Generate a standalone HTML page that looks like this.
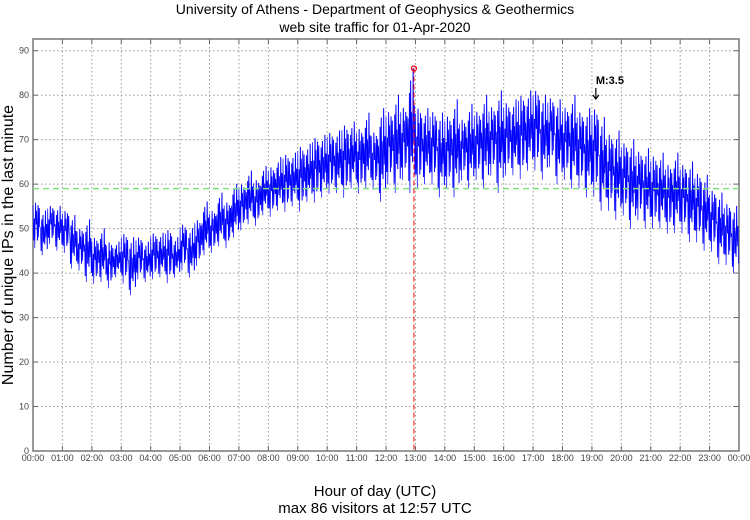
<!DOCTYPE html>
<html><head><meta charset="utf-8"><style>
body{margin:0;background:#fff;font-family:"Liberation Sans",sans-serif}
</style></head><body>
<svg width="750" height="515" xmlns="http://www.w3.org/2000/svg">
<g id="grid"></g>
<g id="series"></g>
<g id="overlay"></g>
</svg>
<script>
const hours = ["00:00","01:00","02:00","03:00","04:00","05:00","06:00","07:00","08:00","09:00","10:00","11:00","12:00","13:00","14:00","15:00","16:00","17:00","18:00","19:00","20:00","21:00","22:00","23:00","00:00"];
const yTicks = [0,10,20,30,40,50,60,70,80,90];
const hiVals = [57,54,56,55, 55,53,51,52, 49,50,48,47, 50,48,49,47, 50,49,51,48, 52,50,53,56, 55,58,57,60, 61,63,62,64, 65,66,68,67, 70,69,72,71, 73,72,75,74, 74,76,73,77, 78,80,79,86, 79,77,78,76, 77,79,76,78, 78,80,79,81, 80,79,82,81, 83,80,81,79, 79,80,78,77, 79,75,73,72, 71,70,69,68, 68,67,66,67, 66,65,64,62, 60,58,57,55];
const loVals = [45,44,46,45, 44,41,40,38, 37,38,36,39, 37,35,38,38, 38,39,37,39, 40,39,41,44, 44,46,45,48, 49,51,50,53, 52,54,53,55, 53,56,55,57, 57,58,56,59, 57,59,58,56, 59,58,60,58, 58,60,59,57, 58,57,60,59, 60,59,61,58, 61,62,60,63, 62,61,63,60, 60,59,58,57, 56,54,53,52, 52,50,51,50, 49,50,48,49, 48,47,46,45, 44,42,41,40];
const meanVal = 59;
const peakVal = 86, peakMin = 777;
const markerMin = 1148;
const X0=33,X1=739,Y0=451,YT=39;
const x = m => X0 + m/1440*(X1-X0);
const y = v => Y0 - v*(451-50.7)/90;
const NS="http://www.w3.org/2000/svg";
function mk(t,a,p){const e=document.createElementNS(NS,t);for(const k in a)e.setAttribute(k,a[k]);p.appendChild(e);return e;}
const svg=document.querySelector('svg'), grid=document.getElementById('grid'), ser=document.getElementById('series'), ov=document.getElementById('overlay');
let t=mk('text',{x:375,y:14,'text-anchor':'middle','font-size':14},svg);t.textContent="University of Athens - Department of Geophysics & Geothermics";

t=mk('text',{x:375,y:32,'text-anchor':'middle','font-size':14},svg);t.textContent="web site traffic for 01-Apr-2020";

t=mk('text',{x:375,y:496,'text-anchor':'middle','font-size':15},svg);t.textContent="Hour of day (UTC)";

t=mk('text',{x:375,y:513,'text-anchor':'middle','font-size':15},svg);t.textContent="max 86 visitors at 12:57 UTC";

t=mk('text',{x:0,y:0,'text-anchor':'middle','font-size':16,transform:'translate(13,245) rotate(-90)'},svg);t.textContent="Number of unique IPs in the last minute";

yTicks.forEach(v=>{
  if(v>0){const l=mk('line',{x1:X0,x2:X1,y1:y(v),y2:y(v),stroke:'#999','stroke-dasharray':'1.5,2.5','stroke-width':1},grid);
  }
  mk('line',{x1:X0,x2:X0+5,y1:y(v),y2:y(v),stroke:'#666'},grid);
  mk('line',{x1:X1,x2:X1-5,y1:y(v),y2:y(v),stroke:'#666'},grid);
  const tt=mk('text',{x:X0-4,y:y(v)+3,'text-anchor':'end','font-size':9,fill:'#444'},grid);tt.textContent=v;
  
});
hours.forEach((h,i)=>{
  const xx=x(i*60);
  if(i>0&&i<24){const l=mk('line',{x1:xx,x2:xx,y1:YT,y2:Y0,stroke:'#999','stroke-dasharray':'1.5,2.5'},grid);
  }
  mk('line',{x1:xx,x2:xx,y1:Y0,y2:Y0-5,stroke:'#666'},grid);
  mk('line',{x1:xx,x2:xx,y1:YT,y2:YT+5,stroke:'#666'},grid);
  const tt=mk('text',{x:xx,y:461,'text-anchor':'middle','font-size':9,fill:'#444'},grid);tt.textContent=h;
  
});
const fr=mk('rect',{x:X0,y:YT,width:X1-X0,height:Y0-YT,fill:'none',stroke:'#777','stroke-width':1.5},grid);

let pts=[];
hiVals.forEach((hi,i)=>{
  const lo=loVals[i], mid=(hi+lo)/2, sp=hi-lo;
  const vals=(i%2)
   ? [mid+sp*0.1,lo+sp*0.1,mid+sp*0.3,lo,mid+sp*0.4,mid-sp*0.2,hi-sp*0.35,lo+sp*0.25,hi,mid-sp*0.1,mid+sp*0.2,lo+sp*0.15]
   : [hi-sp*0.15,mid-sp*0.3,mid+sp*0.1,lo+sp*0.05,hi-sp*0.1,mid,mid+sp*0.25,lo+sp*0.2,mid+sp*0.35,mid-sp*0.25,hi-sp*0.2,mid-sp*0.05];
  vals.forEach((v,k)=>{const m=i*15+k*15/vals.length;
    pts.push(x(m).toFixed(1)+','+y(v).toFixed(1));
    pts.push(x(m+0.6).toFixed(1)+','+y(k%3?v:mid).toFixed(1));});
});
let p=mk('polyline',{points:pts.join(' '),fill:'none',stroke:'#0000ff','stroke-width':0.7},ser);

let g=mk('line',{x1:X0,x2:X1,y1:y(meanVal),y2:y(meanVal),stroke:'#7fe07f','stroke-width':1.5,'stroke-dasharray':'6,4'},ov);

let r=mk('line',{x1:x(peakMin),x2:x(peakMin),y1:y(peakVal),y2:Y0,stroke:'#ff0000','stroke-width':1,'stroke-dasharray':'5,3'},ov);

let c=mk('circle',{cx:x(peakMin),cy:y(peakVal),r:2.5,fill:'none',stroke:'#ff0000','stroke-width':1.2},ov);

const mx=x(markerMin);
let a=mk('path',{d:`M${mx},88 L${mx},99 M${mx-3},95 L${mx},99 L${mx+3},95`,stroke:'#000',fill:'none','stroke-width':1.2},ov);

let mt=mk('text',{x:mx,y:84,'font-size':11,'font-weight':'bold'},ov);mt.textContent="M:3.5";

</script>
</body></html>
